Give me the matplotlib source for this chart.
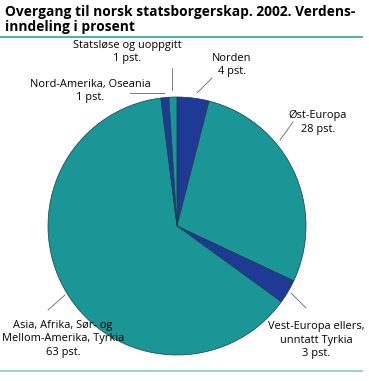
import matplotlib
matplotlib.use("Agg")
import matplotlib.pyplot as plt

# data, clockwise from 12 o'clock
labels = ["Norden", "Øst-Europa", "Vest-Europa ellers,\nunntatt Tyrkia",
          "Asia, Afrika, Sør- og\nMellom-Amerika, Tyrkia",
          "Nord-Amerika, Oseania", "Statsløse og uoppgitt"]
values = [4, 28, 3, 63, 1, 1]

TEAL = "#1a9696"
BLUE = "#1f3a94"
colors = [BLUE, TEAL, BLUE, TEAL, BLUE, TEAL]

W, H = 369, 381
fig = plt.figure(figsize=(W / 100, H / 100), dpi=100)
ax = fig.add_axes([0, 0, 1, 1])

def Y(y):  # pixel row -> data y
    return H - y

plt.rcParams["font.family"] = ["Open Sans", "DejaVu Sans"]

fig.text(5 / W, 1 - 5 / H, "Overgang til norsk statsborgerskap. 2002. Verdens-\ninndeling i prosent",
         ha="left", va="top", fontsize=9.9, fontweight="bold", linespacing=1.1)

cx, cy, r = 177, Y(226), 129
ax.pie(values, colors=colors, startangle=90, counterclock=False, center=(cx, cy), radius=r,
       wedgeprops=dict(edgecolor="#1c3a4a", linewidth=0.5), frame=True)
ax.set_xlim(0, W)
ax.set_ylim(0, H)
ax.set_aspect("auto")
ax.axis("off")

ax.plot([0, 362], [Y(36.5), Y(36.5)], color="#3aaaa8", lw=1.3)
ax.plot([0, 362], [Y(370.5), Y(370.5)], color="#8fcfcf", lw=1.3)

fs = 7.9
txt = dict(ha="center", va="center", fontsize=fs, linespacing=1.35)
ax.text(127, Y(52), "Statsløse og uoppgitt\n1 pst.", **txt)
ax.text(232, Y(65), "Norden\n4 pst.", **txt)
ax.text(90, Y(91), "Nord-Amerika, Oseania\n1 pst.", **txt)
ax.text(318, Y(122), "Øst-Europa\n28 pst.", **txt)
ax.text(316, Y(340), "Vest-Europa ellers,\nunntatt Tyrkia\n3 pst.", **txt)
ax.text(63, Y(339), "Asia, Afrika, Sør- og\nMellom-Amerika, Tyrkia\n63 pst.", **txt)

lc = dict(color="#666666", lw=0.6)
ax.plot([171.5, 171.5], [Y(68), Y(90)], **lc)
ax.plot([212, 197], [Y(78), Y(93)], **lc)
ax.plot([130, 164], [Y(93), Y(93)], **lc)
ax.plot([293, 280], [Y(122), Y(140)], **lc)
ax.plot([291, 306], [Y(293), Y(308)], **lc)
ax.plot([65, 48], [Y(295), Y(310)], **lc)

fig.savefig("out.png", dpi=100)
